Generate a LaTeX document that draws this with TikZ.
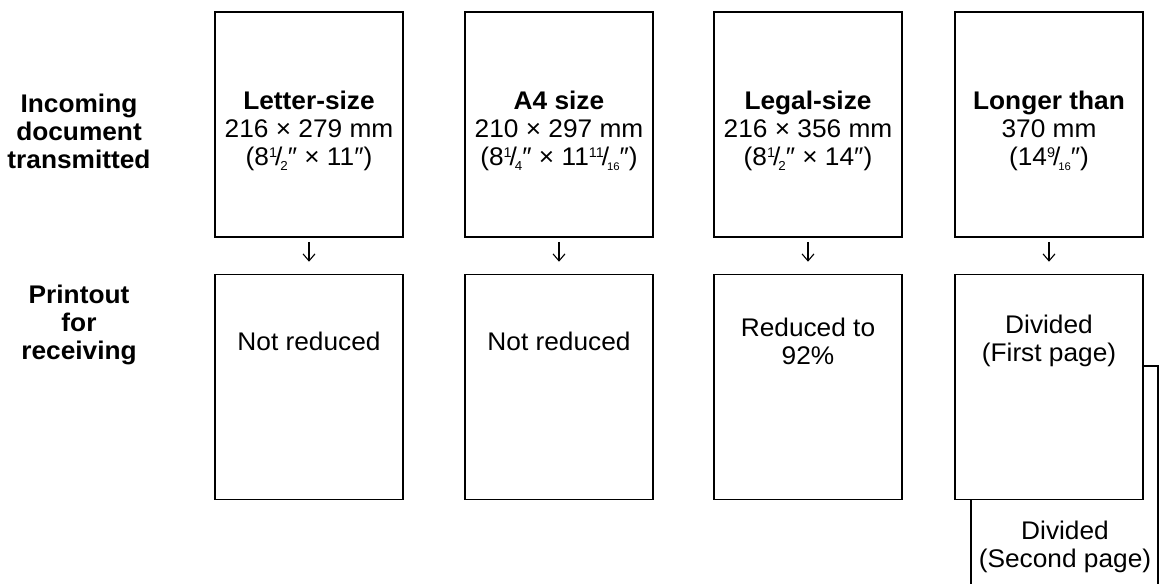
\documentclass[tikz,border=0pt]{standalone}
\usepackage{fontspec}
\setmainfont{Liberation Sans}[FakeStretch=1.03]
\usetikzlibrary{arrows.meta}
\newcommand\frc[2]{\raisebox{0.6ex}{\fontsize{14}{14}\selectfont #1}\kern-0.08em/\kern-0.08em\raisebox{-0.4ex}{\fontsize{13}{13}\selectfont #2}}
\newcommand\frs[2]{\raisebox{0.6ex}{\fontsize{14}{14}\selectfont #1}\kern-0.08em/\kern-0.08em\raisebox{-0.4ex}{\fontsize{11}{11}\selectfont #2}}
\begin{document}
\begin{tikzpicture}[x=1pt,y=-1pt,
  page/.style={draw,line width=1.6pt,minimum width=188pt,minimum height=225pt,inner sep=0pt},
  txt/.style={align=center,inner sep=0pt,font=\fontsize{25.5}{28}\selectfont},
  btxt/.style={txt,font=\fontsize{25.5}{28}\selectfont\bfseries},
  arr/.style={line width=1.1pt,-{Straight Barb[length=7pt,width=12pt,line width=1.1pt]},shorten <=4pt,shorten >=12pt},
  thin/.style={line width=1.5pt}]
\useasboundingbox (0,0) rectangle (1161,584);
% left labels
\node[btxt] (lab1) at (79,131) {Incoming\\document\\transmitted};
\node[btxt] (lab2) at (79,325) {Printout\\for\\receiving};
% top pages
\node[page] (t1) at (309,124.5) {};
\node[page] (t2) at (559,124.5) {};
\node[page] (t3) at (808,124.5) {};
\node[page] (t4) at (1049,124.5) {};
% bottom pages
\node[page] (b1) at (309,387) {};
\node[page] (b2) at (559,387) {};
\node[page] (b3) at (808,387) {};
\node[page] (b4) at (1049,387) {};
% top texts
\node[txt] (x1) at (309,131) {\textbf{Letter-size}\\216 × 279 mm\\(8\frc{1}{2}″ × 11″)};
\node[txt] (x2) at (559,131) {\textbf{A4 size}\\210 × 297 mm\\(8\frc{1}{4}″ × 11\frs{11}{16}″)};
\node[txt] (x3) at (808,131) {\textbf{Legal-size}\\216 × 356 mm\\(8\frc{1}{2}″ × 14″)};
\node[txt] (x4) at (1049,131) {\textbf{Longer than}\\370 mm\\(14\frs{9}{16}″)};
% bottom texts
\node[txt] (y1) at (309,341) {Not reduced};
\node[txt] (y2) at (559,341) {Not reduced};
\node[txt] (y3) at (808,341) {Reduced to\\92\%};
\node[txt] (y4) at (1049,341) {Divided\\(First page)};
% arrows
\draw[arr] (t1) -- (b1);
\draw[arr] (t2) -- (b2);
\draw[arr] (t3) -- (b3);
\draw[arr] (t4) -- (b4);
% second page
\coordinate (s1) at (971,584);
\coordinate (s2) at (1158,584);
\coordinate (s3) at (1158,366);
\draw[thin] (b4.south -| s1) -- (s1);
\draw[thin] (b4.east |- s3) -- (s3) -- (s2);
\node[txt] (p2) at (1065,547) {Divided\\(Second page)};
\end{tikzpicture}
\end{document}
